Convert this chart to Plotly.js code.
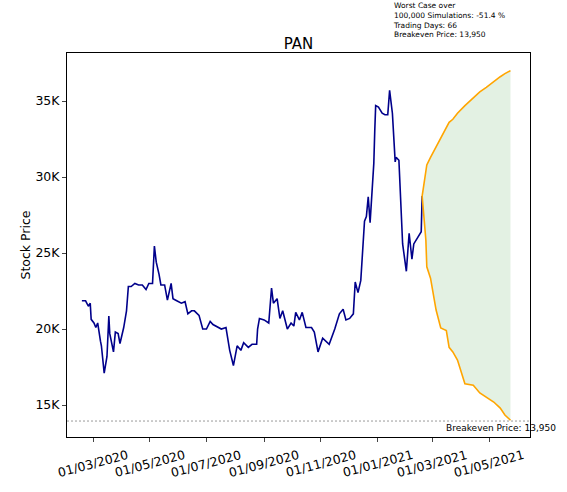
<!DOCTYPE html>
<html>
<head>
<meta charset="utf-8">
<script src="https://cdn.plot.ly/plotly-3.0.1.min.js"></script>
<style>body{margin:0}#chart{width:567px;height:492px}</style>
</head>
<body>
<div id="chart"></div>
<script>
const histDates = ["2020-02-18","2020-02-22","2020-02-25","2020-02-27","2020-02-28","2020-03-02","2020-03-04","2020-03-06","2020-03-09","2020-03-10","2020-03-13","2020-03-16","2020-03-18","2020-03-19","2020-03-23","2020-03-25","2020-03-28","2020-03-30","2020-04-03","2020-04-06","2020-04-08","2020-04-11","2020-04-15","2020-04-19","2020-04-23","2020-04-27","2020-04-30","2020-05-04","2020-05-06","2020-05-08","2020-05-11","2020-05-13","2020-05-17","2020-05-20","2020-05-24","2020-05-26","2020-05-29","2020-06-04","2020-06-08","2020-06-11","2020-06-15","2020-06-18","2020-06-23","2020-06-27","2020-07-01","2020-07-05","2020-07-08","2020-07-12","2020-07-17","2020-07-22","2020-07-26","2020-07-30","2020-08-03","2020-08-07","2020-08-10","2020-08-15","2020-08-19","2020-08-24","2020-08-25","2020-08-27","2020-09-01","2020-09-06","2020-09-09","2020-09-11","2020-09-15","2020-09-18","2020-09-21","2020-09-26","2020-09-30","2020-10-03","2020-10-05","2020-10-09","2020-10-12","2020-10-16","2020-10-22","2020-10-25","2020-10-29","2020-11-03","2020-11-10","2020-11-16","2020-11-21","2020-11-25","2020-11-28","2020-12-02","2020-12-06","2020-12-08","2020-12-11","2020-12-14","2020-12-16","2020-12-18","2020-12-20","2020-12-22","2020-12-24","2020-12-26","2020-12-28","2020-12-29","2020-12-30","2021-01-02","2021-01-06","2021-01-09","2021-01-12","2021-01-14","2021-01-17","2021-01-20","2021-01-21","2021-01-24","2021-01-28","2021-02-01","2021-02-04","2021-02-07","2021-02-09","2021-02-17","2021-02-18"];
const histPrice = [21860,21860,21500,21700,20640,20400,20100,20400,19200,18900,17100,18200,20850,19700,18500,19800,19700,19050,20100,21200,22800,22800,23000,22900,22900,22600,23000,23000,25460,24400,23600,22900,22900,21900,23000,22000,21900,21700,21800,21000,21200,21200,20900,20000,20000,20500,20300,20150,20000,20100,18600,17600,18900,18600,19100,18800,19000,19000,20000,20700,20600,20400,22700,21700,22000,20700,21200,20000,20400,20200,21100,20600,21100,20100,20100,19800,18500,19400,19000,20000,21000,21300,20600,20700,21000,23100,22400,23200,24900,27100,27400,28700,27000,29200,30900,33000,34700,34600,34200,34100,34100,35700,34200,31000,31300,31100,25600,23800,26300,24600,25600,26400,28750];
const fcDates = ["2021-02-18","2021-02-20","2021-02-22","2021-02-23","2021-02-27","2021-03-05","2021-03-10","2021-03-16","2021-03-19","2021-03-23","2021-03-28","2021-04-05","2021-04-14","2021-04-21","2021-04-28","2021-05-06","2021-05-13","2021-05-18","2021-05-24"];
const fcUpper = [28750,29600,30200,30800,31300,32000,32600,33200,33600,33800,34200,34700,35200,35600,35900,36300,36600,36800,37000];
const fcLower = [28750,27000,25850,24100,23350,21250,20070,19900,18800,18500,17960,16400,16300,15800,15500,15200,14800,14350,14000];
const breakeven = 13950;
const yTicks = [15000,20000,25000,30000,35000];
const yTickText = ["15K","20K","25K","30K","35K"];
const xTicks = ["2020-03-01","2020-05-01","2020-07-01","2020-09-01","2020-11-01","2021-01-01","2021-03-01","2021-05-01"];
const xTickText = ["01/03/2020","01/05/2020","01/07/2020","01/09/2020","01/11/2020","01/01/2021","01/03/2021","01/05/2021"];

// rotated tick labels centred on the tick, like matplotlib
const xLabelNotes = xTicks.map((d, i) => ({
  xref: "x", yref: "paper", x: d, y: -0.02, yanchor: "top", xanchor: "center",
  showarrow: false, textangle: -15, text: xTickText[i], font: { size: 12.5 },
}));

Plotly.newPlot("chart", [
  { type: "scatter", mode: "lines", x: histDates, y: histPrice, line: { color: "#00008b", width: 1.6 }, hoverinfo: "skip" },
  { type: "scatter", mode: "lines", x: fcDates, y: fcLower, line: { color: "#ffa500", width: 1.6 }, hoverinfo: "skip" },
  { type: "scatter", mode: "lines", x: fcDates, y: fcUpper, fill: "tonexty", fillcolor: "rgba(200,228,200,0.5)", line: { color: "#ffa500", width: 1.6 }, hoverinfo: "skip" },
], {
  width: 567, height: 492,
  margin: { l: 67, r: 37, t: 53, b: 55 },
  paper_bgcolor: "#fff", plot_bgcolor: "#fff",
  font: { family: "DejaVu Sans, sans-serif", color: "#000", size: 12.5 },
  showlegend: false,
  title: { text: "PAN", x: 0.5, xref: "paper", yref: "paper", y: 1, yanchor: "bottom", pad: { b: 4 }, font: { size: 15 } },
  xaxis: {
    type: "date", range: ["2020-02-02", "2021-06-14"],
    tickvals: xTicks, ticktext: xTicks.map(() => ""),
    showgrid: false, zeroline: false, showline: true, linecolor: "#000", mirror: true,
    ticks: "outside", ticklen: 4,
  },
  yaxis: {
    range: [12900, 38160], tickvals: yTicks, ticktext: yTickText,
    title: { text: "Stock Price", font: { size: 12.5 } },
    showgrid: false, zeroline: false, showline: true, linecolor: "#000", mirror: true,
    ticks: "outside", ticklen: 4,
  },
  shapes: [
    { type: "line", xref: "paper", x0: 0, x1: 1, yref: "y", y0: breakeven, y1: breakeven, line: { color: "#555", width: 0.6, dash: "2px,2px" } },
  ],
  annotations: [
    ...xLabelNotes,
    { xref: "paper", yref: "y", x: 1.06, y: breakeven, xanchor: "right", yanchor: "top", showarrow: false,
      text: "Breakeven Price: " + breakeven.toLocaleString("en-US"), font: { size: 9 } },
    { xref: "paper", yref: "paper", x: 0.7, y: 1.14, xanchor: "left", yanchor: "top", showarrow: false, align: "left",
      text: "Worst Case over<br>100,000 Simulations: -51.4 %<br>Trading Days: 66<br>Breakeven Price: " + breakeven.toLocaleString("en-US"),
      font: { size: 7.5 } },
  ],
}, { displayModeBar: false, staticPlot: true });
</script>
</body>
</html>
